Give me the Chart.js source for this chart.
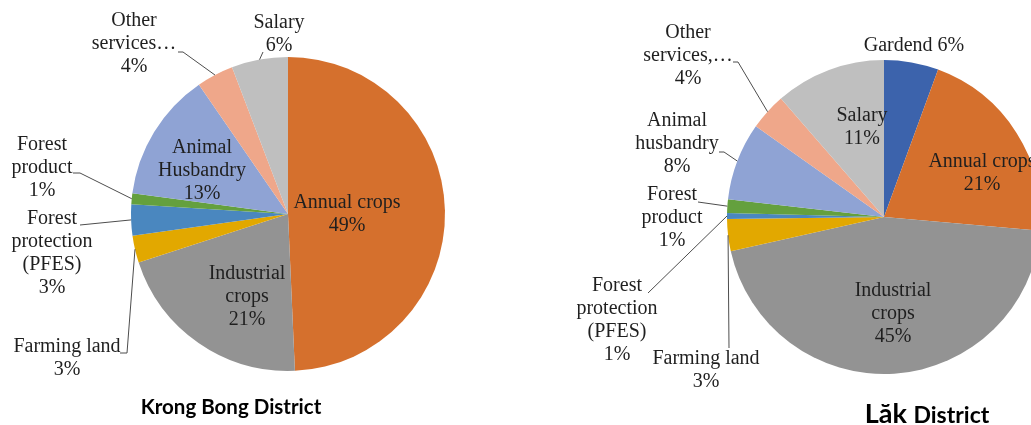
<!DOCTYPE html>
<html>
<head>
<meta charset="utf-8">
<script src="https://cdn.jsdelivr.net/npm/chart.js@4.4.0/dist/chart.umd.min.js"></script>
<style>
  html, body { margin: 0; padding: 0; background: #fff; overflow: hidden; width: 1031px; height: 425px; }
  .box { position: absolute; left: 0; top: 0; width: 1200px; height: 425px; }
</style>
</head>
<body>
<div class="box"><canvas id="krong" width="1200" height="425"></canvas></div>
<div class="box"><canvas id="lak" width="1200" height="425"></canvas></div>
<script>
// Krong Bong District
const krongCategories = [['Annual crops'], ['Industrial', 'crops'], ['Farming land'], ['Forest', 'protection', '(PFES)'], ['Forest', 'product'], ['Animal', 'Husbandry'], ['Other', 'services…'], ['Salary']];
const krongValues = [49.3, 20.7, 2.8, 3.2, 1.1, 13.3, 3.8, 5.8];

// Lăk District
const lakCategories = [['Gardend'], ['Annual crops'], ['Industrial', 'crops'], ['Farming land'], ['Forest', 'protection', '(PFES)'], ['Forest', 'product'], ['Animal', 'husbandry'], ['Other', 'services,…'], ['Salary']];
const lakValues = [5.6, 20.8, 45.1, 3.3, 0.6, 1.4, 8.0, 3.8, 11.4];

const colors = {
    'Gardend': '#3C63AC',
    'Annual crops': '#D5702D',
    'Industrial crops': '#939393',
    'Farming land': '#E2A800',
    'Forest protection (PFES)': '#4A87BF',
    'Forest product': '#64A03E',
    'Animal Husbandry': '#8FA3D4',
    'Animal husbandry': '#8FA3D4',
    'Other services…': '#EFA78A',
    'Other services,…': '#EFA78A',
    'Salary': '#BFBFBF'
};

// label placement, offsets from the pie centre
const krongLayout = [
    { dx: 59, dy: 0 },
    { dx: -41, dy: 83 },
    { dx: -221, dy: 144, leader: [[-168, 139], [-161, 139]] },
    { dx: -236, dy: 39, leader: [[-208, 11]] },
    { dx: -246, dy: -46, leader: [[-215, -41], [-208, -41]] },
    { dx: -86, dy: -43 },
    { dx: -154, dy: -170, leader: [[-110, -162], [-105, -162]] },
    { dx: -9, dy: -180, leader: [[-25, -162]] }
];
const lakLayout = [
    { dx: 30, dy: -171, inline: true },
    { dx: 98, dy: -44 },
    { dx: 9, dy: 97 },
    { dx: -178, dy: 153, leader: [[-155, 131]] },
    { dx: -267, dy: 103, leader: [[-236, 76]] },
    { dx: -212, dy: 1, leader: [[-186, -15]] },
    { dx: -207, dy: -73, leader: [[-165, -65], [-160, -65]] },
    { dx: -196, dy: -161, leader: [[-151, -155], [-146, -155]] },
    { dx: -22, dy: -90 }
];

const pieLabels = {
    id: 'pieLabels',
    afterDatasetsDraw(chart, args, opts) {
        const ctx = chart.ctx;
        const meta = chart.getDatasetMeta(0);
        const data = chart.data.datasets[0].data;
        const total = data.reduce((a, b) => a + b, 0);
        ctx.save();
        meta.data.forEach((arc, i) => {
            const p = arc.getProps(['x', 'y', 'startAngle', 'endAngle', 'outerRadius'], true);
            const lay = opts.layout[i];
            const pct = Math.round(data[i] / total * 100) + '%';
            const name = chart.data.labels[i];
            const lines = lay.inline ? [name.join(' ') + ' ' + pct] : name.concat([pct]);

            if (lay.leader) {
                const mid = (p.startAngle + p.endAngle) / 2;
                ctx.beginPath();
                ctx.strokeStyle = '#4d4d4d';
                ctx.lineWidth = 1;
                lay.leader.forEach((pt, k) => {
                    const x = p.x + pt[0], y = p.y + pt[1];
                    if (k === 0) ctx.moveTo(x, y); else ctx.lineTo(x, y);
                });
                ctx.lineTo(p.x + Math.cos(mid) * p.outerRadius, p.y + Math.sin(mid) * p.outerRadius);
                ctx.stroke();
            }

            ctx.fillStyle = '#1f1f1f';
            ctx.font = '20px "Liberation Serif", "Times New Roman", serif';
            ctx.textAlign = 'center';
            ctx.textBaseline = 'middle';
            const lh = 23;
            const y0 = p.y + lay.dy - (lines.length - 1) * lh / 2;
            lines.forEach((t, k) => ctx.fillText(t, p.x + lay.dx, y0 + k * lh));
        });

        // district caption
        const t = opts.title;
        ctx.fillStyle = '#000';
        ctx.textBaseline = 'alphabetic';
        ctx.textAlign = 'left';
        let w = 0;
        t.parts.forEach(pt => { ctx.font = pt.font; w += ctx.measureText(pt.text).width; });
        let x = t.x - w / 2;
        t.parts.forEach(pt => {
            ctx.font = pt.font;
            ctx.fillText(pt.text, x, t.y);
            x += ctx.measureText(pt.text).width;
        });
        ctx.restore();
    }
};

function makePie(id, categories, values, layout, padding, title) {
    new Chart(document.getElementById(id), {
        type: 'pie',
        data: {
            labels: categories,
            datasets: [{
                data: values,
                backgroundColor: categories.map(c => colors[c.join(' ')]),
                borderWidth: 0
            }]
        },
        options: {
            responsive: false,
            animation: false,
            events: [],
            layout: { padding: padding },
            plugins: {
                legend: { display: false },
                tooltip: { enabled: false },
                pieLabels: { layout: layout, title: title }
            }
        },
        plugins: [pieLabels]
    });
}

makePie('krong', krongCategories, krongValues, krongLayout,
    { left: 131, right: 755, top: 57, bottom: 54 },
    { x: 231, y: 414, parts: [{ text: 'Krong Bong District', font: 'bold 20.5px Lato, "Open Sans", sans-serif' }] });

makePie('lak', lakCategories, lakValues, lakLayout,
    { left: 727, right: 159, top: 60, bottom: 51 },
    { x: 927, y: 423, parts: [
        { text: 'Lăk ', font: 'bold 27px Lato, "Open Sans", sans-serif' },
        { text: 'District', font: 'bold 23px Lato, "Open Sans", sans-serif' }
    ] });
</script>
</body>
</html>
